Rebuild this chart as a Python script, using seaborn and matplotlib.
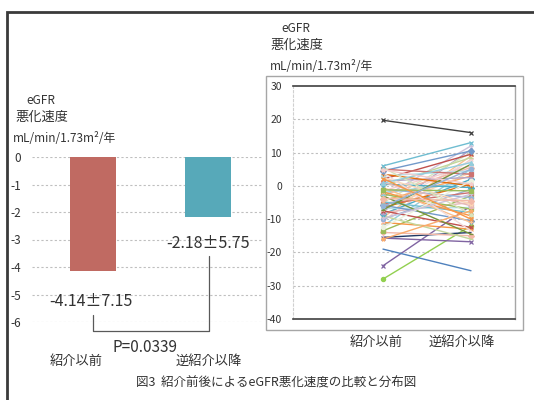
import matplotlib
matplotlib.use("Agg")
import matplotlib.pyplot as plt
import seaborn as sns
import pandas as pd
from matplotlib.patches import Rectangle
from matplotlib.lines import Line2D

sns.set_theme(style="white")
plt.rcParams['font.family'] = ['Noto Sans CJK JP', 'DejaVu Sans']
plt.rcParams['axes.unicode_minus'] = False

# ---- summary data (mean ± SD of eGFR decline rate) ----
categories = ["紹介以前", "逆紹介以降"]
means = [-4.14, -2.18]
sds = [7.15, 5.75]
p_value = 0.0339
bar_colors = ["#C06A62", "#57A9B9"]

# ---- per-patient decline rates (before / after) ----
before = [19.7, -28.0, -24.0, -19.0, -15.5, -15.7, -14.0, -13.5, -12.0, -11.0,
          -10.5, -10.0, -9.5, -9.0, -8.5, -8.0, -7.8, -7.5, -7.0, -6.8,
          -6.5, -6.0, -5.8, -5.5, -5.0, -4.8, -4.5, -4.0, -3.5, -3.0,
          -2.8, -2.5, -2.0, -1.8, -1.5, -1.0, -0.5, 0.0, 0.5, 1.0,
          1.5, 2.0, 2.5, 3.0, 3.5, 4.0, 4.5, 5.0, 5.5, 6.0,
          -16.0, -12.5, -9.8, -7.2, -3.8, -1.2, 0.8, 2.2, 4.8, -6.2]
after = [16.0, -12.0, -6.0, -25.5, -14.0, -16.8, -15.0, -3.0, 5.0, -13.0,
         8.0, -1.0, 9.0, -16.0, 2.0, -5.0, 11.0, -12.5, 4.0, -6.5,
         0.5, 7.5, -10.5, -2.0, 10.0, -8.0, 3.0, -4.0, 12.0, -14.5,
         5.5, -7.0, 1.0, -9.0, 6.0, -3.5, -11.0, 8.5, -0.5, -6.0,
         2.5, 9.5, -5.5, 4.5, 0.0, -13.5, 10.5, 3.5, -8.5, 13.0,
         -7.5, 1.5, -2.5, 6.5, -4.5, -1.5, 7.0, -10.0, 0.5, 5.0]

base_colors = ["#F2B8A8", "#9BBB59", "#93CDDD", "#F79646", "#F4CCCC", "#95B3D7",
               "#FAC090", "#C3D69B", "#4BACC6", "#E6B9B8", "#B3A2C7", "#C0504D",
               "#FCD5B5", "#B7DEE8", "#E46C0A", "#F2DCDB", "#729ACA", "#CD7371",
               "#D7E4BD", "#6FBDD1", "#F9AB6B", "#EBF1DE", "#CCC1DA", "#77933C"]
special_colors = ["#404040", "#92D050", "#8064A2", "#4F81BD", "#1F3864", "#8064A2"]
line_colors = special_colors + [base_colors[i % len(base_colors)]
                                for i in range(len(before) - len(special_colors))]
base_markers = ["D", "s", "^", "x", "*", "o", "+", "_"]
special_markers = ["x", "o", "x", None, None, "x"]
line_markers = special_markers + [base_markers[i % len(base_markers)]
                                  for i in range(len(before) - len(special_markers))]

W, H = 534, 400
fig = plt.figure(figsize=(W / 100, H / 100), dpi=100)


def fig_rect(x0, y0, x1, y1):
    return [x0 / W, 1 - y1 / H, (x1 - x0) / W, (y1 - y0) / H]


# outer frame of the figure
fig.add_artist(Rectangle((7 / W, -0.05), 1.1, 1 - 12 / H + 0.05, transform=fig.transFigure,
                         fill=False, edgecolor="#3a3a3a", linewidth=2.0))

# ---------------- left: bar chart ----------------
axL = fig.add_axes(fig_rect(32, 157, 262, 322))
bar_df = pd.DataFrame({"cat": categories, "mean": means})
sns.barplot(data=bar_df, x="cat", y="mean", hue="cat", palette=bar_colors,
            width=0.4, legend=False, ax=axL, saturation=1)
axL.set_ylim(-6, 0)
axL.set_xlim(-0.53, 1.47)
axL.set_yticks(range(-6, 1))
axL.set_yticklabels([str(v) for v in range(-6, 1)], fontsize=8.5, color="#333333")
axL.tick_params(axis="y", length=0, pad=8)
axL.set_xticks([])
axL.set_xlabel("")
axL.set_ylabel("")
for s in axL.spines.values():
    s.set_visible(False)
for v in range(-6, 1):
    axL.axhline(v, color="#BFBFBF", lw=0.8, ls=(0, (2, 2)), zorder=0)
for p in axL.patches:
    p.set_edgecolor("none")


def lx(x):
    return (x - 93) / 115


def ly(y):
    return -(y - 157) / 27.5


label_pos = [(91, 302), (208, 244)]
for (px, py), m, sd in zip(label_pos, means, sds):
    axL.text(lx(px), ly(py), f"{m:.2f}±{sd:.2f}", ha="center", va="center",
             fontsize=11.5, color="#333333", clip_on=False)

bx = [lx(93), lx(93), lx(209), lx(209)]
by = [ly(315), ly(331), ly(331), ly(256)]
axL.add_line(Line2D(bx, by, color="#595959", lw=0.9, clip_on=False))
axL.text(lx(145), ly(347), f"P={p_value:.4f}", ha="center", va="center",
         fontsize=11, color="#333333", clip_on=False)
for px, c in zip([76, 209], categories):
    axL.text(lx(px), ly(361), c, ha="center", va="center", fontsize=9.5,
             color="#333333", clip_on=False)

fig.text(41 / W, 1 - 100 / H, "eGFR", ha="center", va="center", fontsize=8.5, color="#333333")
fig.text(15 / W, 1 - 117 / H, "悪化速度", ha="left", va="center", fontsize=9.5, color="#333333")
fig.text(13 / W, 1 - 138 / H, "mL/min/1.73m²/年", ha="left", va="center", fontsize=8.5, color="#333333")

# ---------------- right: individual changes ----------------
fig.add_artist(Rectangle((266 / W, 1 - 330 / H), (523 - 266) / W, (330 - 76) / H,
                         transform=fig.transFigure, fill=False,
                         edgecolor="#A6A6A6", linewidth=1.0))
axR = fig.add_axes(fig_rect(293, 86, 515, 319))
for i, (b, a) in enumerate(zip(before, after)):
    pdf = pd.DataFrame({"pos": [0, 1], "rate": [b, a]})
    sns.lineplot(data=pdf, x="pos", y="rate", color=line_colors[i],
                 marker=line_markers[i], ax=axR, lw=1.0, markersize=3,
                 markeredgewidth=0.9, markeredgecolor=line_colors[i],
                 legend=False)
axR.set_ylim(-40, 30)
axR.set_xlim(-(383 - 293) / 88, 1 + (515 - 471) / 88)
axR.set_yticks(range(-40, 31, 10))
axR.set_yticklabels([str(v) for v in range(-40, 31, 10)], fontsize=7.5, color="#333333")
axR.tick_params(axis="y", length=0, pad=8)
axR.set_xticks([])
axR.set_xlabel("")
axR.set_ylabel("")
for v in range(-30, 30, 10):
    axR.axhline(v, color="#BFBFBF", lw=0.8, ls=(0, (2, 2)), zorder=0)
axR.spines["top"].set_color("#404040")
axR.spines["bottom"].set_color("#404040")
axR.spines["top"].set_linewidth(1.2)
axR.spines["bottom"].set_linewidth(1.2)
axR.spines["right"].set_color("#A6A6A6")
axR.spines["right"].set_linewidth(1.0)
axR.spines["left"].set_color("#D0D0D0")
axR.spines["left"].set_linestyle((0, (2, 2)))
axR.spines["left"].set_linewidth(0.8)

for px, c in zip([376, 462], categories):
    fig.text(px / W, 1 - 342 / H, c, ha="center", va="center", fontsize=9.5, color="#333333")

fig.text(296 / W, 1 - 29 / H, "eGFR", ha="center", va="center", fontsize=8.5, color="#333333")
fig.text(270 / W, 1 - 45 / H, "悪化速度", ha="left", va="center", fontsize=9.5, color="#333333")
fig.text(270 / W, 1 - 67 / H, "mL/min/1.73m²/年", ha="left", va="center", fontsize=8.5, color="#333333")

fig.text(276 / W, 1 - 383 / H, "図3  紹介前後によるeGFR悪化速度の比較と分布図",
         ha="center", va="center", fontsize=9, color="#333333")

fig.savefig("out.png", dpi=100)
